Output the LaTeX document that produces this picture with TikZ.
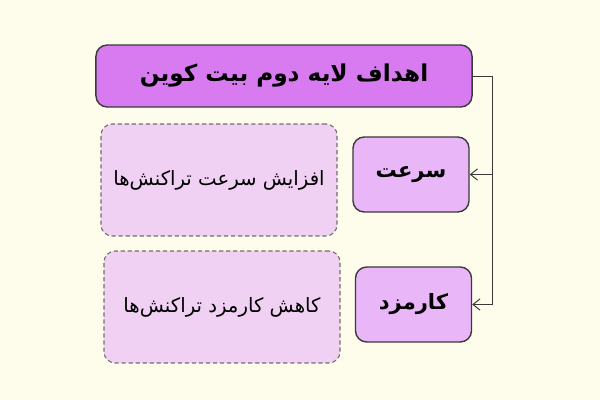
\documentclass[tikz,border=0pt]{standalone}
\usepackage{fontspec}
\newfontfamily\farsifont[Script=Arabic]{DejaVu Sans}
\TeXXeTstate=1
\usetikzlibrary{arrows.meta,positioning}
\definecolor{bgcream}{HTML}{FEFDEB}
\definecolor{goalfill}{HTML}{D87AF0}
\definecolor{topicfill}{HTML}{E9B7F8}
\definecolor{notefill}{HTML}{F0D1F3}
\definecolor{edgegray}{HTML}{3A3A3A}
\definecolor{dashgray}{HTML}{707070}

\begin{document}
\begin{tikzpicture}[x=0.025cm,y=-0.025cm]
		\tikzstyle{every node}=[font=\farsifont]
		\tikzstyle{goalbox}=[draw=edgegray, line width=1pt, fill=goalfill, rounded corners=8pt,
			minimum width=9.4cm, minimum height=1.55cm, font=\farsifont\bfseries\fontsize{16.5}{20}\selectfont]
		\tikzstyle{topicbox}=[draw=edgegray, line width=1pt, fill=topicfill, rounded corners=8pt,
			minimum width=2.9cm, minimum height=1.875cm, font=\farsifont\bfseries\fontsize{15}{18}\selectfont]
		\tikzstyle{notebox}=[draw=dashgray, line width=0.8pt, dash pattern=on 3pt off 2pt, fill=notefill,
			rounded corners=8pt, minimum width=5.9cm, minimum height=2.8cm, font=\farsifont\fontsize{14}{17}\selectfont]
		\tikzstyle{link}=[draw=edgegray, line width=0.7pt, -{Straight Barb[length=5pt,width=8pt]}]
		% background
		\fill [bgcream] (0,0) rectangle (600,400);
		% boxes
		\node [goalbox] (goal) at (284,76) {\beginR اهداف لایه دوم بیت کوین\endR};
		\node [topicbox] (speed) at (411,174.5) {\beginR سرعت\endR};
		\node [topicbox] (fee) at (413.5,304.5) {\beginR کارمزد\endR};
		\node [notebox] (speednote) at (219,180) {\beginR افزایش سرعت تراکنش‌ها\endR};
		\node [notebox] (feenote) at (222,307) {\beginR کاهش کارمزد تراکنش‌ها\endR};
		% connectors
		\coordinate (trunk) at (492,76);
		\draw [draw=edgegray, line width=0.7pt] (goal.east) -- (trunk);
		\draw [link] (trunk) |- (speed.east);
		\draw [link] (trunk) |- (fee.east);
	\end{tikzpicture}
\end{document}
